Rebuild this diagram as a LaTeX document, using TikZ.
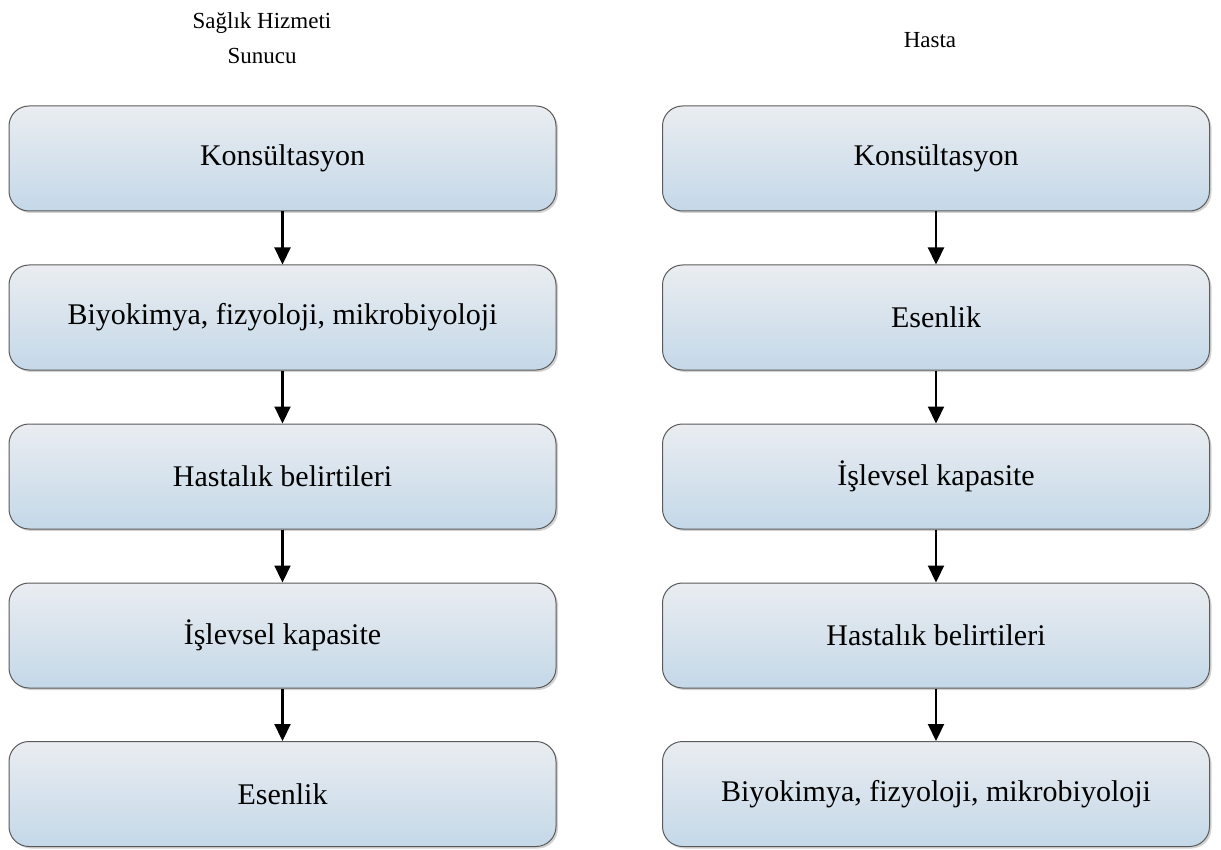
\documentclass[tikz,border=0pt]{standalone}
\usepackage{fontspec}
\setmainfont{Liberation Serif}
\usetikzlibrary{arrows.meta,shadows}
\definecolor{boxtop}{HTML}{EAEDF1}
\definecolor{boxbot}{HTML}{C4D8E8}
\definecolor{boxline}{HTML}{5A5A5A}
\tikzset{
  stagebox/.style={draw=boxline, line width=1pt, rounded corners=20pt,
    top color=boxtop, bottom color=boxbot,
    minimum width=547pt, minimum height=105pt, inner sep=0pt,
    font=\fontsize{30}{36}\selectfont,
    drop shadow={shadow xshift=2pt, shadow yshift=-2pt, opacity=0.35, fill=gray}},
  flow/.style={line width=2.2pt, -{Triangle[length=17pt,width=16pt]}},
  title/.style={font=\fontsize{23}{35}\selectfont, align=center}
}
\begin{document}
\begin{tikzpicture}[x=1pt,y=1pt]
\useasboundingbox (0,0) rectangle (1221,-850);
% column headings
\node[title] (hl) at (262,-38) {Sağlık Hizmeti\\Sunucu};
\node[title] (hr) at (930,-40) {Hasta};
% provider column
\node[stagebox] (l1) at (282.5,-158.5) {Konsültasyon};
\node[stagebox] (l2) at (282.5,-317.5) {Biyokimya, fizyoloji, mikrobiyoloji};
\node[stagebox] (l3) at (282.5,-476.5) {Hastalık belirtileri};
\node[stagebox] (l4) at (282.5,-635.5) {İşlevsel kapasite};
\node[stagebox] (l5) at (282.5,-794) {Esenlik};
% patient column
\node[stagebox] (r1) at (936,-158.5) {Konsültasyon};
\node[stagebox] (r2) at (936,-317.5) {Esenlik};
\node[stagebox] (r3) at (936,-476.5) {İşlevsel kapasite};
\node[stagebox] (r4) at (936,-635.5) {Hastalık belirtileri};
\node[stagebox] (r5) at (936,-794) {Biyokimya, fizyoloji, mikrobiyoloji};
% arrows
\foreach \a/\b in {l1/l2,l2/l3,l3/l4,l4/l5,r1/r2,r2/r3,r3/r4,r4/r5}
  \draw[flow] (\a) -- (\b);
\end{tikzpicture}
\end{document}
